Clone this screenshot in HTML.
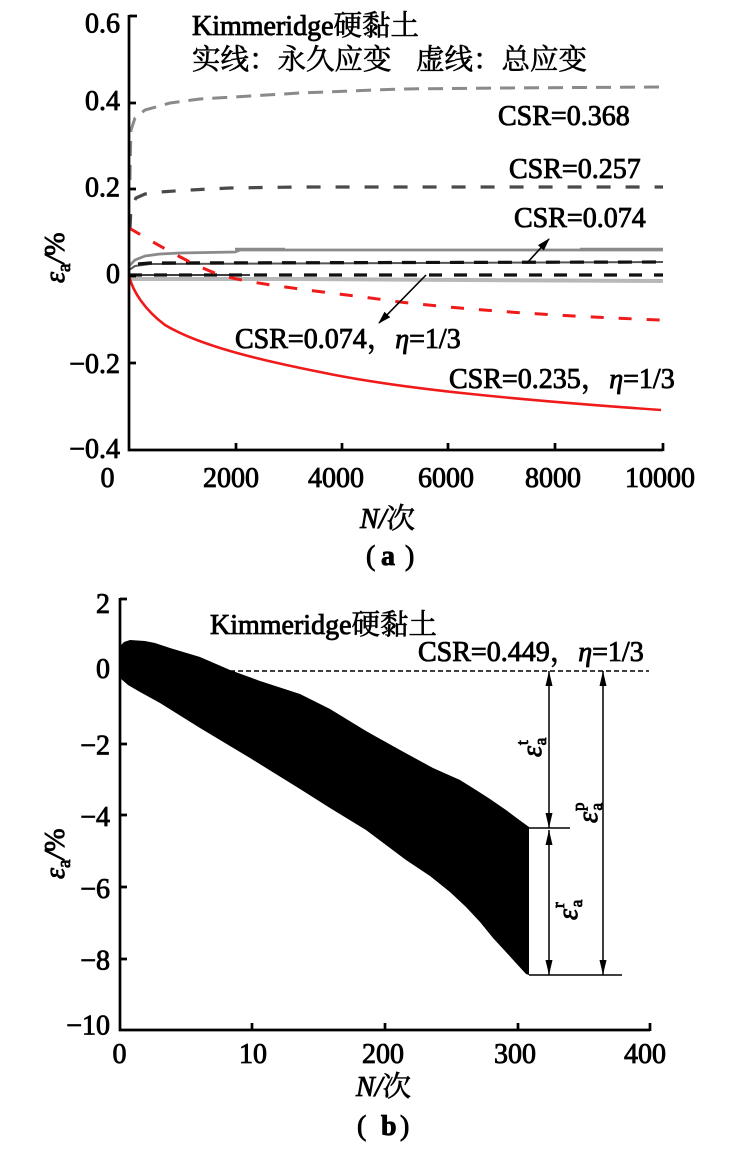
<!DOCTYPE html>
<html>
<head>
<meta charset="utf-8">
<style>
  html,body{margin:0;padding:0;background:#fff;}
  svg{display:block;}
  .t{font-family:"Liberation Serif","Noto Serif CJK SC",serif;font-size:28px;fill:#000;stroke:#000;stroke-width:0.85px;}
  .c{font-family:"Noto Serif CJK SC","Liberation Serif",serif;font-size:28.5px;fill:#000;stroke:#000;stroke-width:0.6px;}
  .it{font-style:italic;}
</style>
</head>
<body>
<svg width="733" height="1158" viewBox="0 0 733 1158" xmlns="http://www.w3.org/2000/svg">
<defs>
  <marker id="ah" markerWidth="13" markerHeight="8" refX="12" refY="4" orient="auto" markerUnits="userSpaceOnUse">
    <path d="M0,0 L13,4 L0,8 Z" fill="#000"/>
  </marker>
  <marker id="bh" markerWidth="15" markerHeight="7" refX="15" refY="3.5" orient="auto" markerUnits="userSpaceOnUse">
    <path d="M0,0 L15,3.5 L0,7 Z" fill="#000"/>
  </marker>
  <marker id="bs" markerWidth="15" markerHeight="7" refX="15" refY="3.5" orient="auto-start-reverse" markerUnits="userSpaceOnUse">
    <path d="M0,0 L15,3.5 L0,7 Z" fill="#000"/>
  </marker>
</defs>
<rect width="733" height="1158" fill="#fff"/>

<!-- ================= Chart (a) ================= -->
<g fill="none" stroke-linejoin="round">
  <path d="M130,180 L130.5,150 L131,130 L135,118 L145,110 L170,103 L200,99 L250,96 L300,93 L350,91 L400,89 L500,88 L663,87" stroke="#8a8a8a" stroke-width="3" stroke-dasharray="15 9"/>
  <path d="M130,228 L131,207 L136,198 L145,194 L160,192 L190,190 L230,188 L300,187 L663,187" stroke="#4a4a4a" stroke-width="3.2" stroke-dasharray="14 15"/>
  <path d="M129,279 L300,279 L467,280 L663,281" stroke="#b8b8b8" stroke-width="4"/>
  <path d="M129,266 L135,260 L145,256 L160,254 L180,253 L235,252 L240,250 L663,250" stroke="#8a8a8a" stroke-width="2.8"/>
  <path d="M235,249 L285,249 M580,249 L663,249" stroke="#8a8a8a" stroke-width="2.5"/>
  <path d="M129,270 L135,266 L150,264 L663,262" stroke="#555" stroke-width="2"/>
  <path d="M138,264 L150,263 L663,262" stroke="#111" stroke-width="3.2" stroke-dasharray="14 10"/>
  <path d="M129,275 L250,275" stroke="#222" stroke-width="1.8"/>
  <path d="M129,275 L663,275" stroke="#111" stroke-width="3.2" stroke-dasharray="13 12"/>
  <path d="M129,228 C150,240 185,262 220,275 C260,286 330,292 400,302 C480,311 560,316 660,320" stroke="#f01a1a" stroke-width="3" stroke-dasharray="13 15"/>
  <path d="M129,276 C133,292 145,310 165,325 C200,346 260,360 320,372 C400,389 520,400 661,410" stroke="#f01a1a" stroke-width="2.6"/>
</g>
<line x1="527" y1="263" x2="549" y2="239" stroke="#000" stroke-width="1.6" marker-end="url(#ah)"/>
<line x1="426" y1="275" x2="379" y2="323" stroke="#000" stroke-width="1.6" marker-end="url(#ah)"/>

<g stroke="#000" stroke-width="2.7" fill="none">
  <path d="M129,15 L129,450 L663,450"/>
  <path d="M129,16 L137,16 M129,103 L136,103 M129,189 L136,189 M129,276 L136,276 M129,363 L136,363"/>
  <path d="M236,450 L236,443 M342,450 L342,443 M448,450 L448,443 M555,450 L555,443 M663,451 L663,443"/>
</g>

<g class="t" text-anchor="end">
  <text x="120" y="32.5">0.6</text>
  <text x="120" y="110">0.4</text>
  <text x="120" y="196.5">0.2</text>
  <text x="120" y="283">0</text>
  <text x="120" y="373">−0.2</text>
  <text x="120" y="458">−0.4</text>
</g>
<g class="t" text-anchor="middle">
  <text x="107.5" y="487">0</text>
  <text x="231" y="487">2000</text>
  <text x="336" y="487">4000</text>
  <text x="446" y="487">6000</text>
  <text x="553" y="487">8000</text>
  <text x="660" y="487">10000</text>
</g>

<text class="t" x="192" y="35">Kimmeridge<tspan class="c" font-size="28">硬黏土</tspan></text>
<text class="c" x="192" y="69">实线：永久应变</text>
<text class="c" x="416" y="69">虚线：总应变</text>

<text class="t" x="498" y="125">CSR=0.368</text>
<text class="t" x="509" y="178">CSR=0.257</text>
<text class="t" x="514" y="227">CSR=0.074</text>
<text class="t" x="235" y="348">CSR=0.074<tspan class="c">，</tspan><tspan class="it">η</tspan>=1/3</text>
<text class="t" x="449" y="388">CSR=0.235<tspan class="c">，</tspan><tspan class="it">η</tspan>=1/3</text>

<text class="t" font-size="30" transform="translate(64,283) rotate(-90)"><tspan class="it">ε</tspan><tspan font-size="19" dy="6">a</tspan><tspan dy="-6" class="it">/</tspan>%</text>
<text class="t" font-size="30" x="360" y="528"><tspan class="it">N</tspan><tspan class="it">/</tspan><tspan class="c" font-size="31">次</tspan></text>
<text class="t" x="366" y="565">(</text>
<text class="t" x="381" y="565" font-size="34" font-weight="bold">a</text>
<text class="t" x="405" y="565">)</text>

<!-- ================= Chart (b) ================= -->
<polygon fill="#000" points="120,652 121,645 124,642 130,640 145,641 155,643 170,648 200,657 230,670 260,681 300,694 330,709 366,731 400,750 433,768 460,780 476,790 490,799 506,810 518,819 529,827 529,975 526,974 515,962 505,951 493,938 480,922 466,907 450,892 430,876 406,860 386,845 366,830 330,808 300,789 250,758 200,728 160,703 140,692 128,685 120,678"/>

<line x1="230" y1="671" x2="649" y2="671" stroke="#000" stroke-width="1.6" stroke-dasharray="5 3"/>

<g stroke="#000" stroke-width="1.5" fill="none">
  <line x1="549" y1="671" x2="549" y2="828" marker-start="url(#bs)" marker-end="url(#bh)"/>
  <line x1="549" y1="830" x2="549" y2="975" marker-start="url(#bs)" marker-end="url(#bh)"/>
  <line x1="603" y1="671" x2="603" y2="975" marker-start="url(#bs)" marker-end="url(#bh)"/>
  <line x1="529" y1="828" x2="570" y2="828"/>
  <line x1="529" y1="975" x2="622" y2="975"/>
</g>

<text class="t" font-size="28" transform="translate(541,757) rotate(-90)"><tspan class="it">ε</tspan><tspan font-size="17" dx="1" dy="-13">t</tspan><tspan font-size="17" dx="-5" dy="18">a</tspan></text>
<text class="t" font-size="28" transform="translate(597,823) rotate(-90)"><tspan class="it">ε</tspan><tspan font-size="17" dx="1" dy="-13">p</tspan><tspan font-size="17" dx="-8" dy="18">a</tspan></text>
<text class="t" font-size="28" transform="translate(577,920) rotate(-90)"><tspan class="it">ε</tspan><tspan font-size="17" dx="1" dy="-13">r</tspan><tspan font-size="17" dx="-5" dy="18">a</tspan></text>

<g stroke="#000" stroke-width="2.7" fill="none">
  <path d="M120,598 L120,1030 L650,1030"/>
  <path d="M120,599 L127,599 M120,671 L127,671 M120,744 L127,744 M120,815 L127,815 M120,887 L127,887 M120,959 L127,959"/>
  <path d="M252,1030 L252,1023 M385,1030 L385,1023 M518,1030 L518,1023 M650,1031 L650,1023"/>
</g>

<g class="t" text-anchor="end">
  <text x="110" y="613">2</text>
  <text x="110" y="678">0</text>
  <text x="110" y="754.5">−2</text>
  <text x="110" y="826">−4</text>
  <text x="110" y="898">−6</text>
  <text x="110" y="969.5">−8</text>
  <text x="110" y="1034.5">−10</text>
</g>
<g class="t" text-anchor="middle">
  <text x="119.5" y="1063">0</text>
  <text x="253" y="1063">10</text>
  <text x="383" y="1063">200</text>
  <text x="515" y="1063">300</text>
  <text x="645" y="1063">400</text>
</g>

<text class="t" x="210" y="634">Kimmeridge<tspan class="c" font-size="28">硬黏土</tspan></text>
<text class="t" x="418" y="661">CSR=0.449<tspan class="c">，</tspan><tspan class="it">η</tspan>=1/3</text>

<text class="t" font-size="30" transform="translate(64,879) rotate(-90)"><tspan class="it">ε</tspan><tspan font-size="19" dy="6">a</tspan><tspan dy="-6" class="it">/</tspan>%</text>
<text class="t" font-size="30" x="356" y="1096"><tspan class="it">N</tspan><tspan class="it">/</tspan><tspan class="c" font-size="31">次</tspan></text>
<text class="t" x="357" y="1135">(</text>
<text class="t" x="381" y="1135" font-size="34" font-weight="bold">b</text>
<text class="t" x="400" y="1135">)</text>
</svg>
</body>
</html>
